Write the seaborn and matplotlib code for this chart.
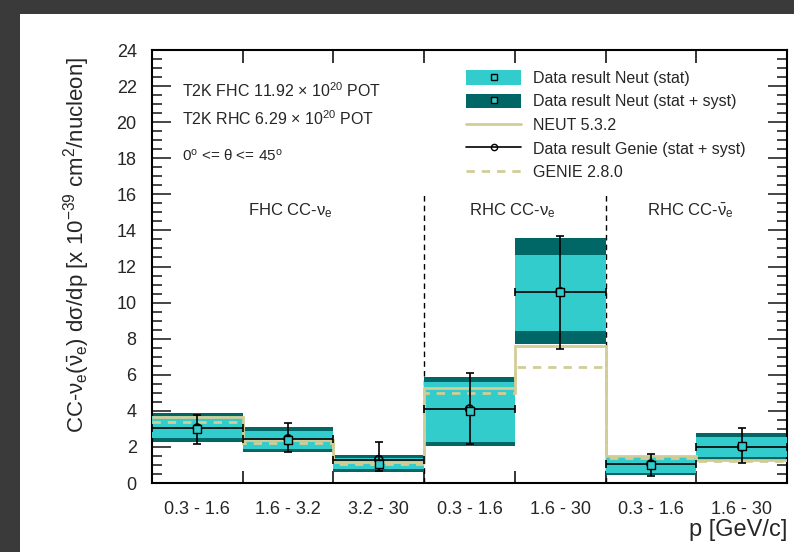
import numpy as np
import matplotlib
matplotlib.use("Agg")
import matplotlib.pyplot as plt
from matplotlib.patches import Patch, Rectangle
from matplotlib.lines import Line2D
from matplotlib.ticker import MultipleLocator
import seaborn as sns

# ---- data: differential cross section per momentum bin ----
bin_labels = ["0.3 - 1.6", "1.6 - 3.2", "3.2 - 30",
              "0.3 - 1.6", "1.6 - 30",
              "0.3 - 1.6", "1.6 - 30"]
neut_result = [3.0, 2.4, 1.05, 4.0, 10.6, 1.0, 2.05]
stat_low = [2.5, 1.9, 0.75, 2.25, 8.45, 0.55, 1.45]
stat_high = [3.7, 2.9, 1.4, 5.6, 12.65, 1.4, 2.55]
syst_low = [2.3, 1.7, 0.6, 2.05, 7.7, 0.45, 1.3]
syst_high = [3.9, 3.1, 1.55, 5.85, 13.6, 1.5, 2.75]
neut_532 = [3.65, 2.4, 1.15, 5.25, 7.6, 1.5, 1.25]
genie_280 = [3.4, 2.2, 1.05, 5.0, 6.45, 1.4, 1.2]
genie_result = [3.05, 2.45, 1.3, 4.1, 10.6, 1.05, 2.0]
genie_low = [2.15, 1.7, 0.65, 2.15, 7.4, 0.4, 1.1]
genie_high = [3.75, 3.3, 2.25, 6.1, 13.7, 1.6, 3.05]
sample_labels = [r"FHC CC-$\nu_{e}$", r"RHC CC-$\nu_{e}$", r"RHC CC-$\bar{\nu}_{e}$"]

sns.set_theme(style="ticks")
plt.rcParams["font.family"] = ["Liberation Sans", "DejaVu Sans"]
plt.rcParams["mathtext.fontset"] = "custom"
plt.rcParams["mathtext.rm"] = "Liberation Sans"
plt.rcParams["mathtext.it"] = "Liberation Sans"
plt.rcParams["mathtext.bf"] = "Liberation Sans:bold"

LIGHT = "#33cccc"
DARK = "#006666"
KHAKI = "#d2cd96"

n = len(bin_labels)
edges = np.arange(n + 1)
centers = edges[:-1] + 0.5
neut_result = np.array(neut_result)
genie_result = np.array(genie_result)

fig = plt.figure(figsize=(7.94, 5.52), dpi=100)
fig.patch.set_facecolor("#3a3a3a")
fig.patches.append(Rectangle((20 / 794, 0), 1 - 20 / 794, 1 - 14 / 552,
                             transform=fig.transFigure, facecolor="white",
                             edgecolor="none", zorder=-10))
ax = fig.add_axes([152 / 794, 69 / 552, 635 / 794, 433 / 552])
ax.set_facecolor("white")

# uncertainty bands
ax.bar(centers, np.array(syst_high) - np.array(syst_low), bottom=syst_low,
       width=1.0, color=DARK, linewidth=0, zorder=2)
ax.bar(centers, np.array(stat_high) - np.array(stat_low), bottom=stat_low,
       width=1.0, color=LIGHT, linewidth=0, zorder=3)

# generator predictions
ax.stairs(neut_532, edges, baseline=None, color=KHAKI, linewidth=2.0, zorder=4)
ax.stairs(genie_280, edges, baseline=None, color=KHAKI, linewidth=2.0,
          linestyle=(0, (3, 2.5)), zorder=4)

# Genie-based result with errors
ax.errorbar(centers, genie_result, xerr=0.5,
            yerr=[genie_result - np.array(genie_low), np.array(genie_high) - genie_result],
            fmt="none", ecolor="black", elinewidth=1.2, capsize=3, capthick=1.2, zorder=5)
sns.scatterplot(x=centers, y=genie_result, marker="o", s=32, facecolors="none",
                edgecolor="black", linewidth=1.2, ax=ax, zorder=6)
sns.scatterplot(x=centers, y=neut_result, marker="s", s=28, color=LIGHT,
                edgecolor="black", linewidth=1.0, ax=ax, zorder=6)

# sample separators
for xs in (3, 5):
    ax.plot([xs, xs], [0, 16.1], color="black", linestyle=(0, (4, 3)), linewidth=1.0, zorder=1)

ax.set_xlim(0, n)
ax.set_ylim(0, 24)
ax.set_xticks(centers)
ax.set_xticklabels(bin_labels, fontsize=13)
ax.set_xticks(edges[1:-1], minor=True)
ax.tick_params(axis="x", which="major", length=0, pad=13)
ax.tick_params(axis="x", which="minor", direction="in", length=9, width=1.3,
               top=True, bottom=True)
ax.yaxis.set_major_locator(MultipleLocator(2))
ax.yaxis.set_minor_locator(MultipleLocator(0.5))
ax.tick_params(axis="y", which="major", direction="in", length=14, width=1.2,
               left=True, right=True, labelsize=13, pad=11)
ax.tick_params(axis="y", which="minor", direction="in", length=7, width=1.2,
               left=True, right=True)
for s in ax.spines.values():
    s.set_linewidth(1.5)
    s.set_color("black")

ax.set_ylabel(r"CC-$\nu_{e}$($\bar{\nu}_{e}$) d$\sigma$/dp [x 10$^{-39}$ cm$^{2}$/nucleon]",
              fontsize=16)
ax.yaxis.set_label_coords(-0.094, 0.55)
ax.set_xlabel("p [GeV/c]", fontsize=17, ha="right")
ax.xaxis.set_label_coords(1.0, -0.082)

# annotations
ax.text(0.33, 21.75, r"T2K FHC 11.92 $\times$ 10$^{20}$ POT", fontsize=11.5, va="center")
ax.text(0.33, 20.2, r"T2K RHC 6.29 $\times$ 10$^{20}$ POT", fontsize=11.5, va="center")
ax.text(0.33, 18.15, r"0$^{o}$ <= $\theta$ <= 45$^{o}$", fontsize=11, va="center")
for xc, lab in zip((1.52, 3.97, 5.93), sample_labels):
    ax.text(xc, 15.1, lab, fontsize=12, ha="center", va="center")

# legend
sq = Line2D([], [], marker="s", color="none", markerfacecolor=LIGHT,
            markeredgecolor="black", markersize=4.5, markeredgewidth=1.0)
handles = [
    (Patch(facecolor=LIGHT, edgecolor="none"), sq),
    (Patch(facecolor=DARK, edgecolor="none"), sq),
    Line2D([], [], color=KHAKI, linewidth=2.0),
    Line2D([], [], color="black", linewidth=1.2, marker="o", markersize=4.5,
           markerfacecolor="none", markeredgewidth=1.0),
    Line2D([], [], color=KHAKI, linewidth=2.0, linestyle=(0, (3, 2.5))),
]
labels = ["Data result Neut (stat)", "Data result Neut (stat + syst)", "NEUT 5.3.2",
          "Data result Genie (stat + syst)", "GENIE 2.8.0"]
ax.legend(handles, labels, loc="upper left", bbox_to_anchor=(0.485, 0.968),
          frameon=False, fontsize=11.5, handlelength=3.45, handleheight=1.0,
          handletextpad=0.7, labelspacing=0.5, borderaxespad=0)

fig.savefig("out.png", dpi=100, facecolor=fig.get_facecolor())
